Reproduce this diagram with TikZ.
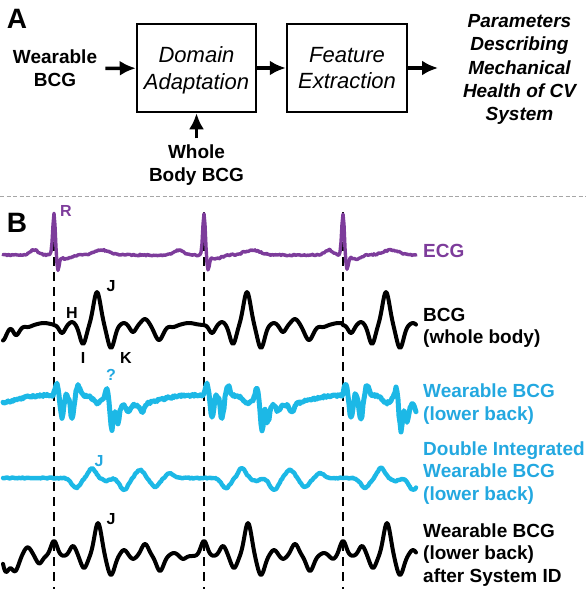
\documentclass[tikz,border=0pt]{standalone}
\usepackage{fontspec}
\setmainfont{Liberation Sans}
\usetikzlibrary{arrows.meta}

\definecolor{ecgpurple}{RGB}{125,60,155}
\definecolor{wearcyan}{RGB}{28,184,230}
\definecolor{labcyan}{RGB}{35,168,224}

\tikzset{
  blockbox/.style={draw, line width=2.5pt, minimum width=119pt, minimum height=88pt, inner sep=0pt, align=center, font=\fontsize{22}{26.4}\selectfont\itshape},
  bigarrow/.style={line width=3.5pt, -{Latex[length=16pt,width=15pt]}},
  flowtext/.style={align=center, font=\fontsize{19}{23.3}\selectfont\bfseries},
  tracename/.style={anchor=west, align=left, inner sep=0pt, font=\fontsize{19}{22.5}\selectfont\bfseries},
  peakname/.style={inner sep=0pt, font=\fontsize{16}{16}\selectfont\bfseries},
  panelname/.style={inner sep=0pt, font=\fontsize{28}{28}\selectfont\bfseries},
  beatline/.style={line width=2.8pt, dash pattern=on 9pt off 6pt},
  trace/.style={line width=4pt, line join=round, line cap=round},
}

\begin{document}
\pgfmathsetseed{5}
\begin{tikzpicture}[x=1pt, y=-1pt,
    declare function={
      gs(\gt,\gc,\gw)=exp(0-pow(min(abs(\gt-\gc)/\gw,3.5),2));
      pb(\px)=-91+145*(\px>53.5)+150*(\px>203.5)+139*(\px>342.5);
      nb(\px)=54+150*(\px>53.5)+139*(\px>203.5)+145*(\px>342.5);
      ecgf(\et)=-42*gs(\et,0,1.8)+14*gs(\et,4,1.8)+4*gs(\et,12,7)-5*gs(\et,48,11)-5*gs(\et,125,6);
      ecgn(\et)=-42*gs(\et,0,1.8);
      bcgf(\bt)=8*gs(\bt,8,4)-3*gs(\bt,18,4)+19*gs(\bt,29,4.5)-33*gs(\bt,43,5)+23*gs(\bt,57,5)-2*gs(\bt,70,4)+7*gs(\bt,79,4)-6*gs(\bt,91,5)+15*gs(\bt,105,6)+2*gs(\bt,119,5)-2*gs(\bt,135,8);
      cyf(\ct)=-5+10*gs(\ct,80,30)-12*gs(\ct,3,2.4)+22*gs(\ct,8,2.6)-2*gs(\ct,13,2.4)+23*gs(\ct,18,2.6)-10*gs(\ct,24,2.6)+6*gs(\ct,43,5)-11*gs(\ct,53,2.2)+29*gs(\ct,58,2.4)+20*gs(\ct,64,2.4)+7*gs(\ct,74,2.6)+8*gs(\ct,88,3);
      cyz(\ct)=1.1+3*gs(\ct,60,8)+2*gs(\ct,15,8);
      dif(\dt)=10*gs(\dt,22,6)-10*gs(\dt,38,5)+3*gs(\dt,52,5)+12*gs(\dt,70,6)-8*gs(\dt,86,6)+9*gs(\dt,101,6)-5*gs(\dt,116,5);
      sysf(\st)=-15*gs(\st,0,4.5)-10*gs(\st,19,4.5)+12*gs(\st,30,4.5)-33*gs(\st,44,5)+19*gs(\st,57,5)-6*gs(\st,70,4.5)+3*gs(\st,79,4)-12*gs(\st,91,5)+15*gs(\st,106,5)-3*gs(\st,120,5)+3*gs(\st,129,4);
      sysn(\st)=-15*gs(\st,0,4.5);
    }]
  \useasboundingbox (0,0) rectangle (586,589);

  \node[panelname] (pa) at (17,19) {A};
  \node[flowtext, inner xsep=8pt, inner ysep=3pt] (wbcg) at (55,68.5) {Wearable\\BCG};
  \node[blockbox] (domain) at (196.5,68) {Domain\\Ada\raisebox{0pt}[\height][0pt]{ptation}};
  \node[blockbox, minimum width=120pt] (feature) at (347,68) {Feature\\Extraction};
  \node[flowtext, font=\fontsize{19}{23.3}\selectfont\bfseries\itshape] (params) at (519.5,69.7) {Parameters\\Describing\\Mechanical\\Health of CV\\System};
  \node[flowtext, inner ysep=6pt] (whole) at (196.5,165) {Whole\\Body BCG};
  \coordinate (outtip) at (438,68);

  \draw[bigarrow] (wbcg) -- (domain);
  \draw[bigarrow] (domain) -- (feature);
  \draw[bigarrow] (feature.east) -- (outtip);
  \draw[bigarrow] (whole) -- (domain);

  \draw[gray!70, line width=1pt, dash pattern=on 4pt off 2.5pt] (0,196) -- (586,196);

  \node[panelname] (pb) at (17,223) {B};
  \foreach \bx in {54,204,343}
    \draw[beatline] (\bx,212) -- (\bx,589);

  \draw[trace, ecgpurple, line width=3.4pt] plot[domain=3:416, samples=414]
    (\x, {255+ecgf(\x-pb(\x))+ecgn(\x-nb(\x))+0.8*rand});
  \draw[trace] plot[domain=3:416, samples=414]
    (\x, {325+bcgf(\x-pb(\x))+20*gs(\x,2,5)-9*gs(\x,12,4)});
  \draw[trace, wearcyan, line width=5pt] plot[domain=3:416, samples=414]
    (\x, {400+cyf(\x-pb(\x))+cyz(\x-pb(\x))*rand});
  \draw[trace, wearcyan, line width=4.4pt] plot[domain=3:416, samples=414]
    (\x, {478+(\x>53.5)*dif(\x-pb(\x))+0.6*rand});
  \draw[trace] plot[domain=3:416, samples=414]
    (\x, {556+sysf(\x-pb(\x))+sysn(\x-nb(\x))+19*gs(\x,5,5)-6*gs(\x,27,5)+5*gs(\x,40,4)});

  \node[peakname, ecgpurple] (rpeak) at (66,211) {R};
  \node[peakname] (hwave) at (72,313) {H};
  \node[peakname] (jwave) at (111,286) {J};
  \node[peakname] (iwave) at (83,358) {I};
  \node[peakname] (kwave) at (126,358) {K};
  \node[peakname, labcyan] (qmark) at (111,375) {?};
  \node[peakname, labcyan] (jdint) at (99,461) {J};
  \node[peakname] (jsys) at (111,519) {J};

  \node[tracename, ecgpurple] (ecgname) at (423,251) {ECG};
  \node[tracename] (bcgname) at (423,328) {BCG\\(whole body)};
  \node[tracename, labcyan] (wearname) at (423,404) {Wearable BCG\\(lower back)};
  \node[tracename, labcyan] (dintname) at (423,473) {Double Integrated\\Wearable BCG\\(lower back)};
  \node[tracename] (sysname) at (423,555) {Wearable BCG\\(lower back)\\after System ID};
\end{tikzpicture}
\end{document}
